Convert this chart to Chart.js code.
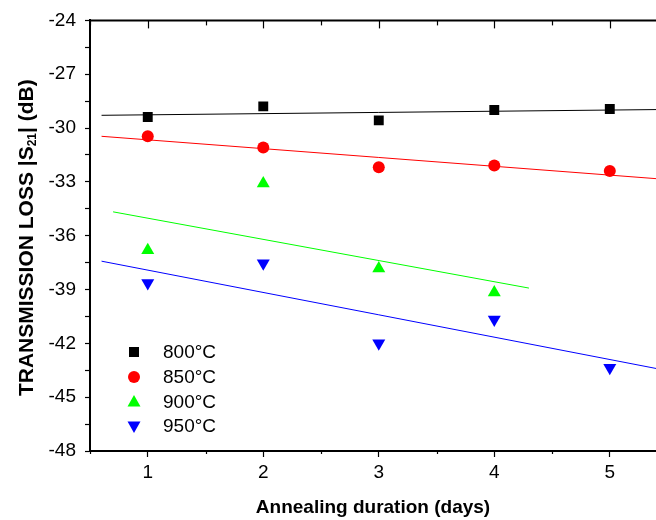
<!DOCTYPE html>
<html>
<head>
<meta charset="utf-8">
<script src="https://cdn.jsdelivr.net/npm/chart.js@4/dist/chart.umd.min.js"></script>
<style>
  html, body { margin: 0; padding: 0; background: #fff; }
  #wrap { width: 656px; height: 520px; position: relative; }
</style>
</head>
<body>
<div id="wrap"><canvas id="lossChart"></canvas></div>
<script>
// annealing days and measured |S21| per temperature
const days = [1, 2, 3, 4, 5];
const loss800 = [-29.38, -28.79, -29.57, -28.99, -28.94];
const loss850 = [-30.46, -31.09, -32.18, -32.09, -32.39];
const loss900 = [-36.81, -33.09, -37.83, -39.16];
const loss950 = [-38.63, -37.53, -42.0, -40.67, -43.36];

// linear fit ends
const fitDays = [0.6, 5.4];
const fitDays900 = [0.7, 4.3];
const fit800 = [-29.29, -28.97];
const fit850 = [-30.46, -32.82];
const fit900 = [-34.67, -38.92];
const fit950 = [-37.42, -43.40];

const labels = ['800°C', '850°C', '900°C', '950°C'];
const colors = ['#000000', '#ff0000', '#00ff00', '#0000ff'];

const FONT = '"Liberation Sans", Arial, Helvetica, sans-serif';

function pts(xs, ys) {
  return ys.map((y, i) => ({ x: xs[i], y: y }));
}

function fitLine(xs, ys, color) {
  return {
    type: 'line',
    data: pts(xs, ys),
    borderColor: color,
    borderWidth: 1,
    pointRadius: 0,
    fill: false,
    order: 2,
  };
}

function marks(label, ys, color, style, radius, rot) {
  return {
    type: 'scatter',
    label: label,
    data: pts(days, ys),
    backgroundColor: color,
    borderColor: color,
    borderWidth: 0,
    pointStyle: style,
    pointRadius: radius,
    pointRotation: rot || 0,
    order: 1,
  };
}

// frame extras: top axis line + inward ticks, short minor ticks at the bottom,
// y title with subscript, legend inside the plot
const framePlugin = {
  id: 'frame',
  afterDraw(chart) {
    const ctx = chart.ctx;
    const area = chart.chartArea;
    const xs = chart.scales.x;
    ctx.save();
    ctx.strokeStyle = '#000';
    ctx.lineWidth = 2;
    ctx.beginPath();
    ctx.moveTo(area.left - 1, area.top);
    ctx.lineTo(area.right, area.top);
    ctx.stroke();

    ctx.lineWidth = 1.2;
    for (let v = 0.5; v <= 5.4; v += 0.5) {
      const px = Math.round(xs.getPixelForValue(v)) + 0.5;
      const major = Number.isInteger(v);
      ctx.beginPath();
      ctx.moveTo(px, area.top);
      ctx.lineTo(px, area.top + (major ? 8 : 5));
      ctx.stroke();
      if (!major) {
        ctx.beginPath();
        ctx.moveTo(px, area.bottom);
        ctx.lineTo(px, area.bottom + 3);
        ctx.stroke();
      }
    }

    // y axis title
    ctx.fillStyle = '#000';
    ctx.textBaseline = 'middle';
    const big = 'bold 21px ' + FONT;
    const small = 'bold 12px ' + FONT;
    const partA = 'TRANSMISSION LOSS |S';
    const partB = '21';
    const partC = '| (dB)';
    ctx.font = big;
    const wA = ctx.measureText(partA).width;
    const wC = ctx.measureText(partC).width;
    ctx.font = small;
    const wB = ctx.measureText(partB).width;
    const total = wA + wB + wC;
    ctx.translate(27, (area.top + area.bottom) / 2 + 2);
    ctx.rotate(-Math.PI / 2);
    let cx = -total / 2;
    ctx.textAlign = 'left';
    ctx.font = big;
    ctx.fillText(partA, cx, 0);
    cx += wA;
    ctx.font = small;
    ctx.fillText(partB, cx, 6);
    cx += wB;
    ctx.font = big;
    ctx.fillText(partC, cx, 0);
    ctx.restore();

    // legend
    ctx.save();
    ctx.font = '19px ' + FONT;
    ctx.textBaseline = 'middle';
    ctx.textAlign = 'left';
    const rows = [352, 377, 402, 426];
    const mx = 134;
    labels.forEach((lab, i) => {
      const y = rows[i];
      ctx.fillStyle = colors[i];
      ctx.beginPath();
      if (i === 0) {
        ctx.rect(mx - 5, y - 5, 10, 10);
      } else if (i === 1) {
        ctx.arc(mx, y, 6, 0, Math.PI * 2);
      } else if (i === 2) {
        ctx.moveTo(mx, y - 7);
        ctx.lineTo(mx + 6.5, y + 4.5);
        ctx.lineTo(mx - 6.5, y + 4.5);
        ctx.closePath();
      } else {
        ctx.moveTo(mx, y + 7);
        ctx.lineTo(mx + 6.5, y - 4.5);
        ctx.lineTo(mx - 6.5, y - 4.5);
        ctx.closePath();
      }
      ctx.fill();
      ctx.fillStyle = '#000';
      ctx.fillText(lab, 163, y + 1);
    });
    ctx.restore();
  }
};

const chart = new Chart(document.getElementById('lossChart'), {
  type: 'scatter',
  data: {
    datasets: [
      fitLine(fitDays, fit800, colors[0]),
      fitLine(fitDays, fit850, colors[1]),
      fitLine(fitDays900, fit900, colors[2]),
      fitLine(fitDays, fit950, colors[3]),
      marks(labels[0], loss800, colors[0], 'rect', 7),
      marks(labels[1], loss850, colors[1], 'circle', 6),
      marks(labels[2], loss900, colors[2], 'triangle', 7.5),
      marks(labels[3], loss950, colors[3], 'triangle', 7.5, 180),
    ],
  },
  options: {
    responsive: true,
    maintainAspectRatio: false,
    animation: false,
    layout: { autoPadding: false, padding: { top: 20, right: 0, left: 0, bottom: 0 } },
    plugins: {
      legend: { display: false },
      tooltip: { enabled: false },
    },
    scales: {
      x: {
        type: 'linear',
        min: 0.5,
        max: 5.4,
        afterFit(scale) {
          scale.height = 69;
          scale.paddingLeft = 0;
          scale.paddingRight = 0;
        },
        border: { display: true, color: '#000', width: 2 },
        grid: {
          drawOnChartArea: false,
          tickLength: 6,
          tickWidth: 1.2,
          tickColor: (c) => Number.isInteger(c.tick && c.tick.value) ? '#000' : 'rgba(0,0,0,0)',
        },
        ticks: {
          stepSize: 0.5,
          includeBounds: false,
          autoSkip: false,
          maxRotation: 0,
          padding: 4,
          color: '#000',
          font: { family: FONT, size: 19 },
          callback: (v) => Number.isInteger(v) && v >= 1 ? String(v) : '',
        },
        title: {
          display: true,
          text: 'Annealing duration (days)',
          color: '#000',
          font: { family: FONT, size: 19, weight: 'bold' },
          padding: { top: 0, bottom: 1 },
        },
      },
      y: {
        min: -48,
        max: -24,
        afterFit(scale) { scale.width = 90; },
        border: { display: true, color: '#000', width: 2 },
        grid: {
          drawOnChartArea: false,
          tickLength: 5,
          tickWidth: 1.2,
          tickColor: '#000',
        },
        ticks: {
          stepSize: 1.5,
          autoSkip: false,
          padding: 9,
          color: '#000',
          font: { family: FONT, size: 19 },
          callback: (v) => Math.abs(v % 3) < 1e-6 ? String(v) : '',
        },
      },
    },
  },
  plugins: [framePlugin],
});
</script>
</body>
</html>
